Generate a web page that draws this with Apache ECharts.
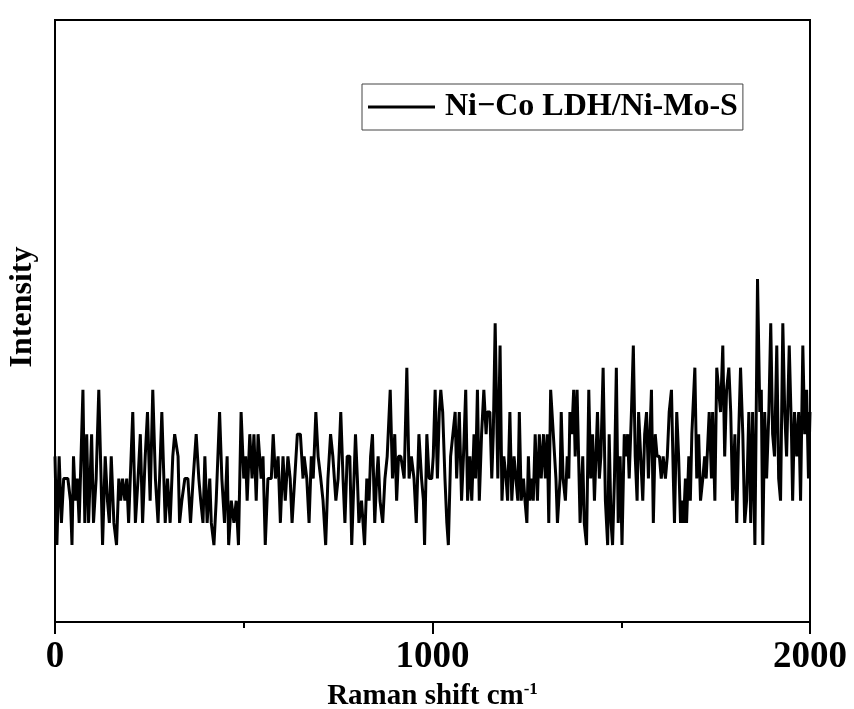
<!DOCTYPE html>
<html>
<head>
<meta charset="utf-8">
<script src="https://cdn.jsdelivr.net/npm/echarts@6/dist/echarts.min.js"></script>
<style>html,body{margin:0;padding:0;background:#fff;}#c{width:854px;height:709px;}</style>
</head>
<body>
<div id="c"></div>
<script>
const seriesName = 'Ni\u2212Co LDH/Ni-Mo-S';
const xTicks = [0, 1000, 2000];
const shift = [
0,5,11,17,23,34,41,45,49,54,59,64,74,79,84,89,97,102,109,116,122,126,133,139,144,149,156,163,169,174,179,185,190,195,206,213,220,226,232,239,245,252,259,266,273,283,292,298,305,312,317,
326,330,336,344,352,359,366,374,381,386,392,397,403,410,414,421,427,436,442,449,456,460,467,474,480,486,493,500,505,509,516,522,527,533,538,546,551,557,564,573,578,584,591,597,604,610,617,623,628,635,642,650,657,
660,667,673,679,684,691,697,704,710,717,723,730,736,744,750,757,763,768,774,781,786,792,796,801,805,812,815,820,826,832,836,841,847,852,856,861,868,874,880,888,894,900,905,910,916,925,932,938,944,951,957,964,971,976,979,985,991,
998,1002,1007,1013,1018,1022,1027,1033,1038,1042,1048,1053,1060,1064,1071,1077,1082,1088,1093,1099,1104,1110,1114,1119,1124,1130,1136,1142,1145,1152,1157,1161,1166,1173,1179,1184,1189,1195,1199,1205,1210,1216,1221,1226,1230,1235,1241,1245,1250,1254,1258,1263,1267,1272,1278,1283,1288,1294,1299,1304,1308,1313,1320,1327,
1331,1338,1341,1346,1352,1357,1361,1364,1369,1374,1378,1383,1387,1391,1398,1402,1408,1414,1419,1424,1429,1433,1437,1442,1446,1452,1458,1464,1468,1473,1477,1482,1487,1492,1497,1502,1508,1512,1517,1521,1527,1532,1537,1542,1546,1551,1557,1562,1567,1572,1580,1585,1590,1595,1601,1606,1611,1617,1622,1627,1633,1638,1641,1647,1652,1657,
1661,1665,1670,1673,1679,1683,1687,1695,1700,1705,1710,1716,1721,1725,1730,1733,1739,1742,1748,1753,1758,1763,1769,1774,1779,1785,1790,1795,1801,1806,1811,1816,1822,1827,1832,1838,1843,1848,1854,1857,1861,1867,1871,1875,1880,1885,1891,1896,1901,1906,1912,1917,1922,1928,1933,1938,1945,1951,1954,1959,1965,1970,1975,1981,1986,1991,1996,2000
];
const intensity = [
4,0,4,1,3,3,2,0,4,2,3,1,7,1,5,1,5,1,3,7,3,0,4,2,1,4,1,0,3,2,3,2,3,1,6,1,3,5,1,4,6,2,7,3,1,6,1,3,1,4,5,
4,1,2,3,3,1,3,5,3,2,1,4,1,3,1,0,2,6,3,1,4,0,2,1,2,0,6,3,4,2,5,3,5,2,5,3,4,0,3,3,5,3,4,1,4,2,4,3,1,3,5,5,3,
4,3,1,4,3,6,4,3,2,0,3,5,4,2,3,6,3,1,4,4,0,3,5,3,1,2,2,0,3,2,4,5,1,3,4,2,1,3,4,7,3,5,2,4,4,3,8,3,4,3,1,5,3,2,0,5,3,
3,4,7,3,6,7,6,3,1,0,4,4,6,3,6,2,4,7,2,4,2,5,3,7,2,5,7,5,6,6,3,5,10,3,9,2,4,3,2,6,2,4,3,2,6,2,3,2,1,4,2,3,2,5,2,5,3,5,3,5,1,7,5,3,
1,3,6,3,2,4,3,6,5,7,4,7,4,1,4,1,0,7,3,5,2,4,6,3,4,8,2,0,5,1,0,3,8,1,4,0,5,4,5,3,6,9,4,2,6,6,2,5,6,3,7,1,5,4,4,3,4,3,4,6,7,3,1,6,4,1,
2,1,3,1,4,2,5,8,3,5,2,3,4,3,3,6,3,6,2,8,7,6,9,4,7,8,6,2,5,1,5,8,5,1,2,6,1,6,0,5,12,6,7,0,6,3,6,10,5,4,9,3,2,10,6,4,9,5,2,6,4,6,2,9,5,7,3,6
];
const data = shift.map((s, i) => [s, intensity[i]]);

const serif = '"Liberation Serif", "Times New Roman", serif';
const chart = echarts.init(document.getElementById('c'), null, {renderer: 'canvas'});
chart.setOption({
  animation: false,
  backgroundColor: '#fff',
  grid: {left: 55, right: 44, top: 20, bottom: 87, outerBoundsMode: 'none', containLabel: false,
    show: true, borderColor: '#000', borderWidth: 2, backgroundColor: 'transparent'},
  legend: {
    left: 362, top: 84,
    data: [{name: seriesName, icon: 'rect'}],
    itemWidth: 67, itemHeight: 3,
    borderColor: '#444', borderWidth: 1,
    padding: [7, 5, 7, 6],
    textStyle: {fontFamily: serif, fontWeight: 'bold', fontSize: 32, color: '#000', padding: [0, 0, 0, 5]}
  },
  xAxis: {
    type: 'value', min: 0, max: 2000, interval: 1000,
    name: '{a|Raman shift cm}{b|-1}',
    nameLocation: 'middle', nameGap: 54,
    nameTextStyle: {
      rich: {
        a: {fontFamily: serif, fontWeight: 'bold', fontSize: 29, color: '#000'},
        b: {fontFamily: serif, fontWeight: 'bold', fontSize: 17, color: '#000', verticalAlign: 'top', padding: [0,0,14,0]}
      }
    },
    axisLine: {show: true, onZero: false, lineStyle: {color: '#000', width: 2}},
    axisTick: {show: true, inside: false, length: 12, lineStyle: {color: '#000', width: 2}},
    minorTick: {show: true, splitNumber: 2, length: 6, lineStyle: {color: '#000', width: 2}},
    axisLabel: {fontFamily: serif, fontWeight: 'bold', fontSize: 37, color: '#000', margin: 17,
      formatter: v => xTicks.includes(v) ? String(v) : ''},
    splitLine: {show: false}
  },
  yAxis: {
    type: 'value', min: -3.47, max: 23.68,
    name: 'Intensity', nameLocation: 'middle', nameRotate: 90, nameGap: 16,
    nameTextStyle: {fontFamily: serif, fontWeight: 'bold', fontSize: 32, color: '#000', padding: [0, 0, 0, 28]},
    axisLine: {show: true, onZero: false, lineStyle: {color: '#000', width: 2}},
    axisTick: {show: false},
    axisLabel: {show: false},
    splitLine: {show: false}
  },
  series: [{
    name: seriesName,
    type: 'line',
    data: data,
    showSymbol: false,
    symbol: 'none',
    lineStyle: {color: '#000', width: 3},
    itemStyle: {color: '#000'}
  }]
});
</script>
</body>
</html>
